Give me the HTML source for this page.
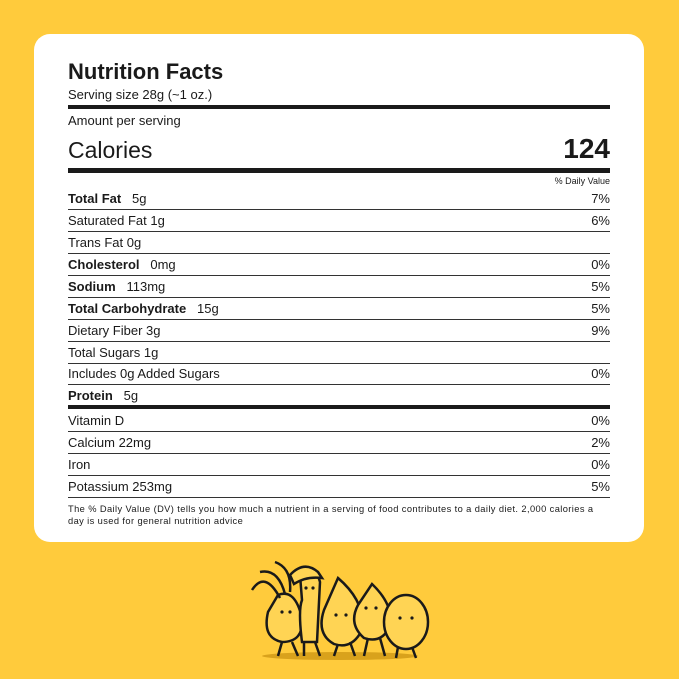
<!DOCTYPE html>
<html><head><style>
body{margin:0;width:679px;height:679px;background:#FFCB3C;position:relative;overflow:hidden;font-family:"Liberation Sans",sans-serif;color:#1a1a1a}
.card{position:absolute;left:34px;top:34px;width:610px;height:508px;background:#fff;border-radius:16px}
.t{position:absolute;left:68px;white-space:nowrap;line-height:1}
.r{position:absolute;right:69px;white-space:nowrap;line-height:1;font-size:13px}
.l{position:absolute;left:68px;width:542px;background:#333}
b{font-weight:bold}
</style></head><body>
<div class="card"></div>
<div class="t" style="top:61px;font-size:22px;font-weight:bold">Nutrition Facts</div>
<div class="t" style="top:88px;font-size:13px">Serving size 28g (~1 oz.)</div>
<div class="l" style="top:105px;height:4px;background:#1a1a1a"></div>
<div class="t" style="top:114px;font-size:13px">Amount per serving</div>
<div class="t" style="top:139px;font-size:23px">Calories</div>
<div class="r" style="top:135px;font-size:28px;font-weight:bold">124</div>
<div class="l" style="top:168px;height:5px;background:#1a1a1a"></div>
<div class="r" style="top:177px;font-size:9px">% Daily Value</div>

<div class="t" style="top:192px;font-size:13px"><b>Total Fat</b>&nbsp;&nbsp; 5g</div><div class="r" style="top:192px">7%</div>
<div class="l" style="top:209px;height:1px"></div>
<div class="t" style="top:214px;font-size:13px">Saturated Fat 1g</div><div class="r" style="top:214px">6%</div>
<div class="l" style="top:231px;height:1px"></div>
<div class="t" style="top:236px;font-size:13px">Trans Fat 0g</div>
<div class="l" style="top:253px;height:1px"></div>
<div class="t" style="top:258px;font-size:13px"><b>Cholesterol</b>&nbsp;&nbsp; 0mg</div><div class="r" style="top:258px">0%</div>
<div class="l" style="top:275px;height:1px"></div>
<div class="t" style="top:280px;font-size:13px"><b>Sodium</b>&nbsp;&nbsp; 113mg</div><div class="r" style="top:280px">5%</div>
<div class="l" style="top:297px;height:1px"></div>
<div class="t" style="top:302px;font-size:13px"><b>Total Carbohydrate</b>&nbsp;&nbsp; 15g</div><div class="r" style="top:302px">5%</div>
<div class="l" style="top:319px;height:1px"></div>
<div class="t" style="top:324px;font-size:13px">Dietary Fiber 3g</div><div class="r" style="top:324px">9%</div>
<div class="l" style="top:341px;height:1px"></div>
<div class="t" style="top:346px;font-size:13px">Total Sugars 1g</div>
<div class="l" style="top:363px;height:1px"></div>
<div class="t" style="top:367px;font-size:13px">Includes 0g Added Sugars</div><div class="r" style="top:367px">0%</div>
<div class="l" style="top:384px;height:1px"></div>
<div class="t" style="top:389px;font-size:13px"><b>Protein</b>&nbsp;&nbsp; 5g</div>
<div class="l" style="top:405px;height:4px;background:#1a1a1a"></div>
<div class="t" style="top:414px;font-size:13px">Vitamin D</div><div class="r" style="top:414px">0%</div>
<div class="l" style="top:431px;height:1px"></div>
<div class="t" style="top:436px;font-size:13px">Calcium 22mg</div><div class="r" style="top:436px">2%</div>
<div class="l" style="top:453px;height:1px"></div>
<div class="t" style="top:458px;font-size:13px">Iron</div><div class="r" style="top:458px">0%</div>
<div class="l" style="top:475px;height:1px"></div>
<div class="t" style="top:480px;font-size:13px">Potassium 253mg</div><div class="r" style="top:480px">5%</div>
<div class="l" style="top:497px;height:1px"></div>
<div class="t" style="top:503px;font-size:9.3px;line-height:12px;letter-spacing:0.4px">The % Daily Value (DV) tells you how much a nutrient in a serving of food contributes to a daily diet. 2,000 calories a<br>day is used for general nutrition advice</div>

<svg style="position:absolute;left:240px;top:550px" width="200" height="120" viewBox="0 0 200 120">
<ellipse cx="100" cy="106" rx="78" ry="4" fill="#d9a21c"/>
<g fill="#FFD454" stroke="#1a1a1a" stroke-width="2.5">
<path d="M38 45 Q55 38 62 68 Q64 92 42 92 Q22 88 28 62Z"/>
<path d="M60 25 Q76 15 80 32 L77 92 L62 92 Q58 60 62 50Z"/>
<path d="M98 28 Q126 52 122 80 Q112 100 94 94 Q76 84 84 60Z"/>
<path d="M132 34 Q154 55 150 76 Q142 94 124 88 Q108 74 118 55Z"/>
<ellipse cx="166" cy="72" rx="22" ry="27"/>
<path d="M50 25 Q64 10 78 22 L82 28 Q66 26 54 34Z"/>
</g>
<path d="M40 48 Q25 20 12 40 M45 44 Q38 18 20 22 M50 42 Q52 18 35 12" stroke="#1a1a1a" stroke-width="2.5" fill="none"/>
<path d="M42 92 L38 106 M52 92 L58 106 M64 92 L64 106 M75 92 L80 106 M98 94 L94 106 M110 92 L115 106 M128 88 L124 106 M140 88 L145 106 M158 97 L156 108 M172 97 L176 108" stroke="#1a1a1a" stroke-width="2.5"/>
<g fill="#1a1a1a"><circle cx="42" cy="62" r="1.6"/><circle cx="50" cy="62" r="1.6"/><circle cx="66" cy="38" r="1.6"/><circle cx="73" cy="38" r="1.6"/><circle cx="96" cy="65" r="1.6"/><circle cx="106" cy="65" r="1.6"/><circle cx="126" cy="58" r="1.6"/><circle cx="136" cy="58" r="1.6"/><circle cx="160" cy="68" r="1.6"/><circle cx="172" cy="68" r="1.6"/></g>
</svg>
</body></html>
